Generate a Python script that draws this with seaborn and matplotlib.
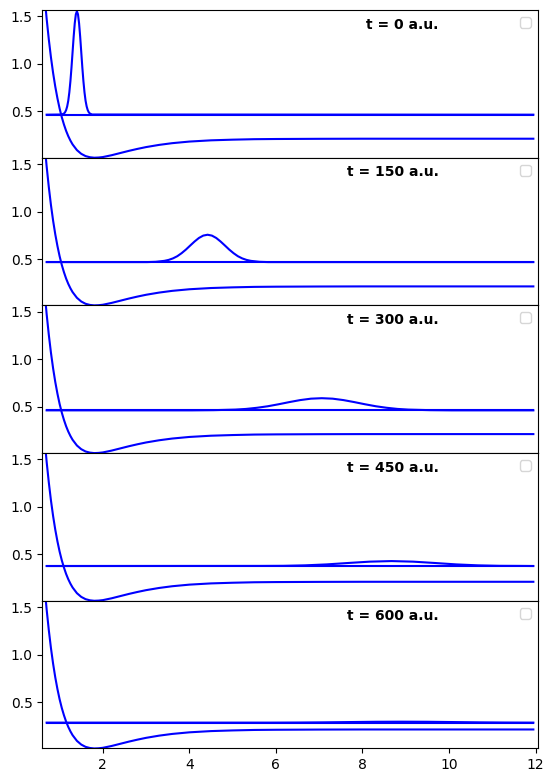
import numpy as np
import pandas as pd
import seaborn as sns
import matplotlib
matplotlib.use("Agg")
import matplotlib.pyplot as plt


# Potential curve (same in every panel)
pot_x = [0.66, 0.7, 0.75, 0.8, 0.85, 0.9, 0.95, 1.0, 1.05, 1.1, 1.15, 1.2, 1.25,
         1.3, 1.4, 1.5, 1.6, 1.7, 1.8, 1.9, 2.0, 2.2, 2.4, 2.6, 2.8, 3.0, 3.3,
         3.6, 4.0, 4.5, 5.0, 5.5, 6.0, 7.0, 8.0, 9.0, 10.0, 11.0, 11.95]
pot_y = [1.677, 1.477, 1.259, 1.068, 0.903, 0.760, 0.637, 0.530, 0.439, 0.362,
         0.295, 0.239, 0.192, 0.152, 0.092, 0.053, 0.029, 0.017, 0.012, 0.014,
         0.019, 0.038, 0.061, 0.084, 0.105, 0.124, 0.147, 0.165, 0.182, 0.195,
         0.202, 0.207, 0.209, 0.211, 0.212, 0.212, 0.212, 0.212, 0.212]

times = [0, 150, 300, 450, 600]
levels = [0.465, 0.468, 0.462, 0.378, 0.284]
level_x = [0.7, 11.95]

# wave packet in each panel
pk1_x = [0.7, 1.05, 1.1, 1.125, 1.15, 1.175, 1.2, 1.225, 1.25, 1.275, 1.3, 1.325,
         1.35, 1.375, 1.4, 1.425, 1.45, 1.475, 1.5, 1.525, 1.55, 1.575, 1.6,
         1.625, 1.65, 1.675, 1.7, 1.75, 11.95]
pk1_y = [0.465, 0.467, 0.477, 0.490, 0.513, 0.552, 0.612, 0.701, 0.819, 0.964,
         1.126, 1.288, 1.427, 1.521, 1.555, 1.521, 1.427, 1.288, 1.126, 0.964,
         0.819, 0.701, 0.612, 0.552, 0.513, 0.490, 0.477, 0.467, 0.465]

pk2_x = [0.7, 3.02, 3.22, 3.42, 3.52, 3.62, 3.72, 3.82, 3.92, 4.02, 4.12, 4.22,
         4.32, 4.42, 4.52, 4.62, 4.72, 4.82, 4.92, 5.02, 5.12, 5.22, 5.32, 5.42,
         5.62, 5.82, 11.95]
pk2_y = [0.468, 0.468, 0.471, 0.481, 0.491, 0.507, 0.530, 0.562, 0.600, 0.643,
         0.685, 0.722, 0.747, 0.756, 0.747, 0.722, 0.685, 0.643, 0.600, 0.562,
         0.530, 0.507, 0.491, 0.481, 0.471, 0.468, 0.468]

pk3_x = [0.7, 4.06, 4.56, 5.06, 5.31, 5.56, 5.81, 6.06, 6.31, 6.56, 6.81, 7.06,
         7.31, 7.56, 7.81, 8.06, 8.31, 8.56, 8.81, 9.06, 9.56, 10.06, 11.95]
pk3_y = [0.462, 0.462, 0.464, 0.470, 0.477, 0.489, 0.505, 0.526, 0.549, 0.570,
         0.585, 0.590, 0.585, 0.570, 0.549, 0.526, 0.505, 0.489, 0.477, 0.470,
         0.464, 0.462, 0.462]

pk4_x = [0.7, 5.67, 6.17, 6.67, 7.17, 7.67, 8.17, 8.67, 9.17, 9.67, 10.17, 10.67,
         11.17, 11.67, 11.95]
pk4_y = [0.378, 0.379, 0.380, 0.385, 0.395, 0.410, 0.424, 0.430, 0.424, 0.410,
         0.395, 0.385, 0.380, 0.379, 0.378]

pk5_x = [0.7, 5.9, 6.5, 7.1, 7.7, 8.3, 8.9, 9.5, 10.1, 10.7, 11.3, 11.9, 11.95]
pk5_y = [0.284, 0.284, 0.285, 0.287, 0.290, 0.293, 0.294, 0.293, 0.290, 0.287,
         0.285, 0.284, 0.284]

packets = [(pk1_x, pk1_y), (pk2_x, pk2_y), (pk3_x, pk3_y), (pk4_x, pk4_y),
           (pk5_x, pk5_y)]


fig, axes = plt.subplots(5, 1, figsize=(5.53, 7.83), dpi=100, sharex=True)
fig.subplots_adjust(left=0.0765, right=0.9723, top=0.9872, bottom=0.0441, hspace=0)

for i, ax in enumerate(axes):
    px, py = packets[i]
    sns.lineplot(x=pot_x, y=pot_y, ax=ax, color="blue", linewidth=1.5)
    sns.lineplot(x=level_x, y=[levels[i]] * len(level_x), ax=ax, color="blue", linewidth=1.5)
    sns.lineplot(x=px, y=py, ax=ax, color="blue", linewidth=1.5)
    ax.set_xlim(0.6, 12.05)
    ax.set_ylim(0.012, 1.567)
    ax.set_yticks([0.5, 1.0, 1.5])
    ax.set_xticks([2, 4, 6, 8, 10, 12])
    ax.set_xlabel("")
    ax.set_ylabel("")
    ax.text(0.8, 0.9, "t = %d a.u." % times[i], transform=ax.transAxes,
            ha="right", va="center", fontsize=10, fontweight="bold")
    ax.legend(handles=[], loc="upper right")
    if i < 4:
        ax.tick_params(axis="x", bottom=False, labelbottom=False)

plt.savefig("out.png", dpi=100)
